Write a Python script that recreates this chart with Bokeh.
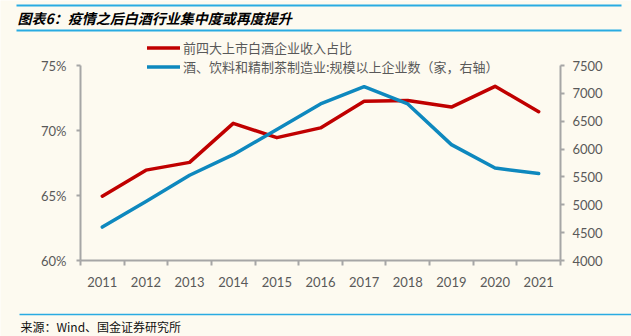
from bokeh.plotting import figure
from bokeh.models import (Range1d, LinearAxis, FixedTicker, Legend, LegendItem, Label,
                          BoxAnnotation, PrintfTickFormatter)
from bokeh.embed import file_html
from bokeh.resources import INLINE

years = [2011, 2012, 2013, 2014, 2015, 2016, 2017, 2018, 2019, 2020, 2021]
share = [64.95, 66.95, 67.55, 70.55, 69.45, 70.2, 72.25, 72.3, 71.8, 73.4, 71.45]
firms = [4600, 5060, 5530, 5900, 6350, 6810, 7120, 6810, 6080, 5660, 5560]
left_ticks = [60, 65, 70, 75]
right_ticks = [4000, 4500, 5000, 5500, 6000, 6500, 7000, 7500]
boundaries = [y - 0.5 for y in years] + [years[-1] + 0.5]

title_text = "图表6：疫情之后白酒行业集中度或再度提升"
source_text = "来源：Wind、国金证券研究所"
label_share = "前四大上市白酒企业收入占比"
label_firms = "酒、饮料和精制茶制造业:规模以上企业数（家，右轴）"

BG = "#FDFAF0"
AX = "#A6A6A6"
TXT = "#595959"
RED = "#C00000"
BLUE = "#0E88BE"
BAR = "#29ABE2"
CJK = "Noto Sans CJK SC"
NUM = "Lato"

W, H = 631, 336
# plot area (pixels from top-left) where the axes sit
AX_L, AX_R, AX_T, AX_B = 80, 560, 65, 260
x0, x1 = years[0] - 0.5, years[-1] + 0.5
ppx = (AX_R - AX_L) / (x1 - x0)
l0, l1 = left_ticks[0], left_ticks[-1]
ppl = (AX_B - AX_T) / (l1 - l0)
r0, r1v = right_ticks[0], right_ticks[-1]
ppr = (AX_B - AX_T) / (r1v - r0)

xr = Range1d(x0 - AX_L / ppx, x1 + (W - AX_R) / ppx)
yr = Range1d(l0 - (H - AX_B) / ppl, l1 + AX_T / ppl)


def px_x(px):
    return xr.start + px / ppx


def px_y(py):
    return yr.end - py / ppl


p = figure(width=W, height=H, output_backend="svg", toolbar_location=None,
           x_range=xr, y_range=yr,
           x_axis_location=None, y_axis_location=None,
           min_border=0, min_border_left=0, min_border_right=0,
           min_border_top=0, min_border_bottom=0,
           background_fill_color=BG, border_fill_color=BG, outline_line_color=None)
p.extra_y_ranges = {"r": Range1d(r0 - (H - AX_B) / ppr, r1v + AX_T / ppr)}
p.xgrid.visible = False
p.ygrid.visible = False


def style(ax):
    ax.axis_line_color = AX
    ax.axis_line_width = 2
    ax.major_label_text_font = NUM
    ax.major_label_text_font_size = "13px"
    ax.major_label_text_color = TXT
    ax.axis_label = None


xa = LinearAxis(ticker=FixedTicker(ticks=years, minor_ticks=boundaries),
                fixed_location=l0, bounds=(x0, x1))
style(xa)
xa.major_tick_line_color = None
xa.minor_tick_line_color = AX
xa.minor_tick_line_width = 2
xa.minor_tick_out = 5
xa.minor_tick_in = 0
xa.major_label_standoff = 10
p.add_layout(xa, "below")

ya = LinearAxis(ticker=FixedTicker(ticks=left_ticks), fixed_location=x0, bounds=(l0, l1),
                formatter=PrintfTickFormatter(format="%d%%"))
style(ya)
ya.minor_tick_line_color = None
ya.major_tick_line_color = AX
ya.major_tick_line_width = 2
ya.major_tick_out = 4
ya.major_tick_in = 0
ya.major_label_standoff = 10
p.add_layout(ya, "left")

ra = LinearAxis(y_range_name="r", ticker=FixedTicker(ticks=right_ticks), fixed_location=x1,
                bounds=(r0, r1v))
style(ra)
ra.minor_tick_line_color = None
ra.major_tick_line_color = AX
ra.major_tick_line_width = 2
ra.major_tick_out = 4
ra.major_tick_in = 0
ra.major_label_standoff = 8
p.add_layout(ra, "right")

rs = p.line(years, share, line_color=RED, line_width=3.5, line_join="round", line_cap="round")
rf = p.line(years, firms, line_color=BLUE, line_width=3.5, line_join="round", line_cap="round",
            y_range_name="r")

legend = Legend(items=[LegendItem(label=label_share, renderers=[rs]),
                       LegendItem(label=label_firms, renderers=[rf])],
                location=(147, 260), orientation="vertical",
                background_fill_alpha=0, border_line_color=None,
                label_text_font=CJK, label_text_font_size="13px", label_text_color=TXT,
                glyph_width=33, glyph_height=17, label_height=17, spacing=0, padding=0,
                label_standoff=3, margin=0)
p.add_layout(legend, "center")

# title, source and the rules around them, placed through the data scales
p.add_layout(Label(x=px_x(17), y=px_y(17.5), text=title_text,
                   text_font=CJK, text_font_size="14px", text_font_style="bold italic",
                   text_color="#000000", text_baseline="middle", text_align="left"))
p.add_layout(Label(x=px_x(20), y=px_y(325.5), text=source_text,
                   text_font=CJK, text_font_size="12px", text_color="#111111",
                   text_baseline="middle", text_align="left"))
for yb, l, r, t in ((5, 16, 621, 2), (30, 16, 621, 2), (314, 19, 631, 1.5)):
    p.add_layout(BoxAnnotation(left=px_x(l), right=px_x(r),
                               bottom=px_y(yb + t / 2), top=px_y(yb - t / 2),
                               fill_color=BAR, fill_alpha=1, line_color=None, line_width=0))

open("out.html", "w").write(file_html(p, INLINE))
